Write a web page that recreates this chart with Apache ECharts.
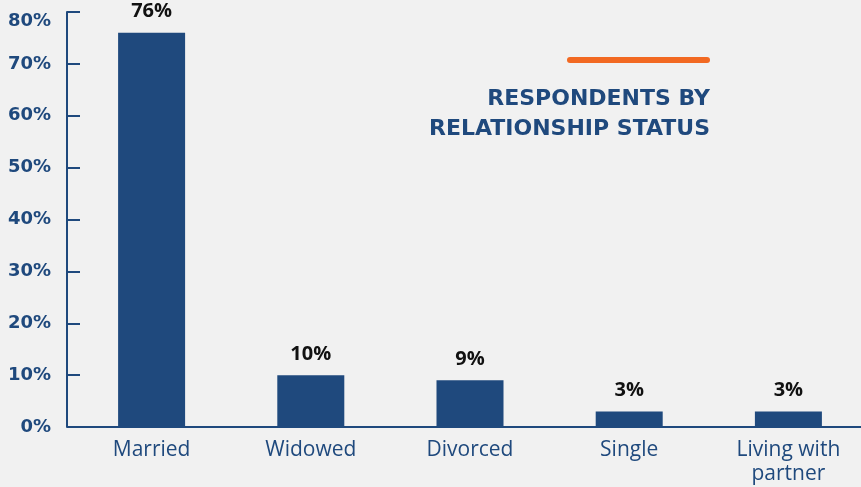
<!DOCTYPE html>
<html>
<head>
<meta charset="utf-8">
<script src="https://cdn.jsdelivr.net/npm/echarts@6/dist/echarts.min.js"></script>
<style>
  html, body { margin: 0; padding: 0; background: #f1f1f1; }
  #chart { width: 861px; height: 487px; }
</style>
</head>
<body>
<div id="chart"></div>
<script>
// Relationship status breakdown of respondents (percent)
const categories = ['Married', 'Widowed', 'Divorced', 'Single', 'Living with\npartner'];
const shares = [76, 10, 9, 3, 3];
const titleText = 'RESPONDENTS BY\nRELATIONSHIP STATUS';

const navy = '#1f497d';
const chart = echarts.init(document.getElementById('chart'));

chart.setOption({
  backgroundColor: '#f1f1f1',
  animation: false,
  title: {
    text: titleText,
    left: 705,
    top: 79,
    textAlign: 'right',
    textStyle: {
      fontFamily: 'DejaVu Sans',
      fontWeight: 'bold',
      fontSize: 22,
      lineHeight: 30,
      color: navy
    }
  },
  graphic: [{
    type: 'line',
    shape: { x1: 570, y1: 60, x2: 707, y2: 60 },
    style: { stroke: '#f26922', lineWidth: 6, lineCap: 'round' }
  }],
  grid: { left: 72, width: 796, top: 12, bottom: 60, outerBoundsMode: 'none' },
  xAxis: {
    type: 'category',
    data: categories,
    axisLine: { lineStyle: { color: navy, width: 2 } },
    axisTick: { show: false },
    axisLabel: {
      margin: 11,
      color: navy,
      fontFamily: 'Open Sans',
      fontSize: 21,
      lineHeight: 24,
      interval: 0
    }
  },
  yAxis: {
    type: 'value',
    min: 0,
    max: 80,
    interval: 10,
    offset: 5,
    axisLine: { show: true, lineStyle: { color: navy, width: 2 } },
    axisTick: { show: true, inside: true, length: 13, lineStyle: { color: navy, width: 2 } },
    splitLine: { show: false },
    axisLabel: {
      formatter: '{value}%',
      margin: 16,
      color: navy,
      fontFamily: 'DejaVu Sans',
      fontWeight: 'bold',
      fontSize: 18,
      verticalAlignMaxLabel: 'top'
    }
  },
  series: [{
    type: 'bar',
    data: shares,
    barWidth: 67,
    itemStyle: { color: navy },
    label: {
      show: true,
      position: 'top',
      distance: 11,
      formatter: '{c}%',
      color: '#111',
      fontFamily: 'Open Sans',
      fontWeight: 'bold',
      fontSize: 20
    }
  }]
});
</script>
</body>
</html>
